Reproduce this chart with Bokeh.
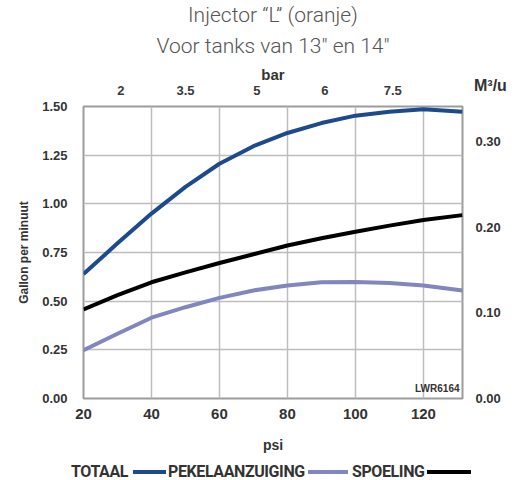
from bokeh.plotting import figure
from bokeh.models import Range1d, LinearAxis, FixedTicker, Title, Label, NumeralTickFormatter, Div
from bokeh.layouts import column
from bokeh.embed import file_html
from bokeh.resources import INLINE

# ---- data ----
psi = [20, 30, 40, 50, 60, 70, 80, 90, 100, 110, 120, 131.5]
totaal = [0.639, 0.797, 0.950, 1.087, 1.206, 1.296, 1.364, 1.415, 1.453, 1.473, 1.486, 1.473]
pekelaanzuiging = [0.248, 0.333, 0.415, 0.469, 0.517, 0.555, 0.580, 0.597, 0.599, 0.593, 0.580, 0.555]
spoeling = [0.458, 0.531, 0.597, 0.648, 0.696, 0.741, 0.786, 0.823, 0.857, 0.888, 0.917, 0.942]

psi_ticks = [20, 40, 60, 80, 100, 120]
gpm_ticks = [0.0, 0.25, 0.5, 0.75, 1.0, 1.25, 1.5]
m3_ticks = [0.0, 0.1, 0.2, 0.3]
m3_unit_label = "M\u00b3/u"
bar_tick_psi = [31, 50, 71, 91, 111]
bar_labels = ["2", "3.5", "5", "6", "7.5"]
gpm_to_m3h = 0.22712

series_names = ["TOTAAL", "PEKELAANZUIGING", "SPOELING"]
series_colors = ["#1c4a8c", "#8286bf", "#000000"]

FONT = "Liberation Sans"
x_lo, x_hi = 20, 131.5

p = figure(width=518, height=460, output_backend="svg", toolbar_location=None,
           x_range=Range1d(x_lo, x_hi), y_range=Range1d(0, 1.5),
           min_border_left=83, min_border_right=56, min_border_top=104, min_border_bottom=62,
           title=None)

p.outline_line_color = "#9c9c9c"
p.outline_line_width = 2

p.line(psi, totaal, line_color=series_colors[0], line_width=4, line_join="round")
p.line(psi, pekelaanzuiging, line_color=series_colors[1], line_width=4, line_join="round")
p.line(psi, spoeling, line_color=series_colors[2], line_width=4, line_join="round")

# grids
p.xgrid.ticker = FixedTicker(ticks=psi_ticks)
p.ygrid.ticker = FixedTicker(ticks=gpm_ticks)
for g in (p.xgrid[0], p.ygrid[0]):
    g.grid_line_color = "#bdbdbd"
    g.grid_line_width = 1.5

# bottom axis
xa = p.xaxis[0]
xa.ticker = FixedTicker(ticks=psi_ticks)
xa.axis_label = "psi"
xa.axis_line_color = None
xa.major_tick_line_color = None
xa.minor_tick_line_color = None
xa.major_label_text_font = FONT
xa.major_label_text_font_style = "bold"
xa.major_label_text_font_size = "15px"
xa.major_label_text_color = "#333333"
xa.major_label_standoff = 4
xa.axis_label_text_font = FONT
xa.axis_label_text_font_style = "bold"
xa.axis_label_text_font_size = "14px"
xa.axis_label_text_color = "#333333"
xa.axis_label_standoff = 15

# left axis
ya = p.yaxis[0]
ya.ticker = FixedTicker(ticks=gpm_ticks)
ya.formatter = NumeralTickFormatter(format="0.00")
ya.axis_label = "Gallon per minuut"
ya.axis_line_color = None
ya.major_tick_line_color = None
ya.minor_tick_line_color = None
ya.major_label_text_font = FONT
ya.major_label_text_font_style = "bold"
ya.major_label_text_font_size = "13px"
ya.major_label_text_color = "#333333"
ya.major_label_standoff = 10
ya.axis_label_text_font = FONT
ya.axis_label_text_font_style = "bold"
ya.axis_label_text_font_size = "12px"
ya.axis_label_text_color = "#333333"
ya.axis_label_standoff = 8

# right axis in m3/u
p.extra_y_ranges = {"m3": Range1d(0, 1.5 * gpm_to_m3h)}
ra = LinearAxis(y_range_name="m3", ticker=FixedTicker(ticks=m3_ticks),
                formatter=NumeralTickFormatter(format="0.00"))
ra.axis_line_color = None
ra.major_tick_line_color = None
ra.minor_tick_line_color = None
ra.major_label_text_font = FONT
ra.major_label_text_font_style = "bold"
ra.major_label_text_font_size = "13px"
ra.major_label_text_color = "#333333"
ra.major_label_standoff = 7
p.add_layout(ra, "right")

# top axis in bar
ta = LinearAxis(ticker=FixedTicker(ticks=bar_tick_psi),
                major_label_overrides=dict(zip(bar_tick_psi, bar_labels)))
ta.axis_label = "bar"
ta.axis_line_color = None
ta.major_tick_line_color = None
ta.minor_tick_line_color = None
ta.major_label_text_font = FONT
ta.major_label_text_font_style = "bold"
ta.major_label_text_font_size = "13px"
ta.major_label_text_color = "#3a3a3a"
ta.major_label_standoff = 6
ta.axis_label_text_font = FONT
ta.axis_label_text_font_style = "bold"
ta.axis_label_text_font_size = "15px"
ta.axis_label_text_color = "#333333"
ta.axis_label_standoff = 0
p.add_layout(ta, "above")

t2 = Title(text='Voor tanks van 13" en 14"', align="center", text_font="Roboto Light",
           text_font_size="21px", text_font_style="normal", text_color="#555555", standoff=10)
p.add_layout(t2, "above")
t1 = Title(text="Injector \u201cL\u201d (oranje)", align="center", text_font="Roboto Light",
           text_font_size="21px", text_font_style="normal", text_color="#555555", standoff=0)
p.add_layout(t1, "above")

p.add_layout(Label(x=x_hi, y=0, x_offset=-3, y_offset=5, text="LWR6164", text_align="right",
                   text_baseline="bottom", text_font=FONT, text_font_style="bold",
                   text_font_size="10px", text_color="#333333"))

# legend row below the chart: each label is followed by its line swatch.
# The same block also carries the right axis unit, lifted up beside the top axis row.
lg_text_left = [71, 168, 352]
lg_bar_left = [133, 308, 427]
lg_bar_width = [33, 40, 44]
parts = []
for name, col, tl, bl, bw in zip(series_names, series_colors, lg_text_left, lg_bar_left, lg_bar_width):
    parts.append(f'<span style="position:absolute;left:{tl}px;top:3px;">{name}</span>')
    parts.append(f'<span style="position:absolute;left:{bl}px;top:10px;width:{bw}px;'
                 f'height:4px;background:{col};"></span>')
parts.append('<span style="position:absolute;left:474px;top:-382px;font-family:\'Liberation Sans\';'
             'font-size:16px;letter-spacing:0;line-height:16px;">' + m3_unit_label + '</span>')
legend_html = ('<div style="position:relative;width:518px;height:20px;white-space:nowrap;'
               'font-family:Roboto;font-weight:bold;font-size:16px;letter-spacing:-0.4px;'
               'color:#333333;line-height:18px;overflow:visible;">' + "".join(parts) + '</div>')
legend_div = Div(text=legend_html, width=518, height=20, margin=(0, 0, 0, 0),
                 styles={"overflow": "visible", "z-index": "10"})

layout = column(p, legend_div, spacing=0)
open("out.html", "w").write(file_html(layout, INLINE))
